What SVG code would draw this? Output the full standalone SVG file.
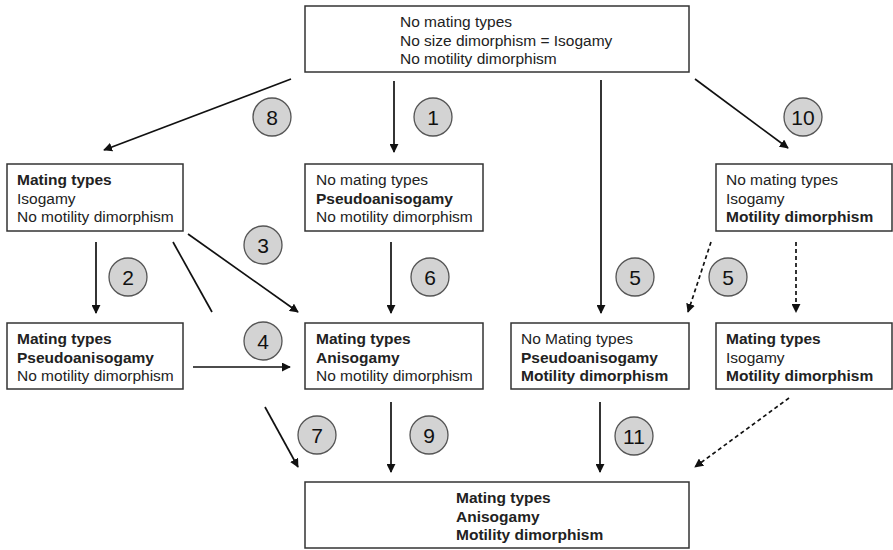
<svg xmlns="http://www.w3.org/2000/svg" width="893" height="550" viewBox="0 0 893 550">
<defs>
<marker id="ah" viewBox="0 0 10 10" refX="9" refY="5" markerWidth="9" markerHeight="9" markerUnits="userSpaceOnUse" orient="auto">
<path d="M0,0 L10,5 L0,10 Z" fill="#111"/>
</marker>
</defs>
<style>
.box{fill:#fff;stroke:#333;stroke-width:1.5}
text{font-family:"Liberation Sans",Arial,sans-serif;font-size:15.5px;fill:#222}
.b{font-weight:bold}
.c circle{fill:#d3d3d3;stroke:#555;stroke-width:1.3}
.c text{font-size:21px;text-anchor:middle;fill:#111}
.ln{stroke:#111;stroke-width:1.7;fill:none}
.ar{marker-end:url(#ah)}
.d{stroke-dasharray:4 3}
</style>
<rect width="893" height="550" fill="#fff"/>
<g id="connectors">
<line class="ln ar" x1="291" y1="79" x2="104" y2="150"/>
<line class="ln ar" x1="394" y1="81" x2="394" y2="152"/>
<line class="ln ar" x1="601" y1="80" x2="601" y2="313"/>
<line class="ln ar" x1="695" y1="79" x2="788" y2="148"/>
<line class="ln ar" x1="96" y1="242" x2="96" y2="313"/>
<line class="ln" x1="173" y1="242" x2="212" y2="312"/>
<line class="ln ar" x1="188" y1="234" x2="298" y2="312"/>
<line class="ln ar" x1="391" y1="242" x2="391" y2="313"/>
<line class="ln ar d" x1="711" y1="242" x2="688" y2="312"/>
<line class="ln ar d" x1="796" y1="242" x2="796" y2="312"/>
<line class="ln ar" x1="193" y1="367" x2="290" y2="367"/>
<line class="ln ar" x1="265" y1="407" x2="298" y2="467"/>
<line class="ln ar" x1="391" y1="402" x2="391" y2="472"/>
<line class="ln ar" x1="600" y1="402" x2="600" y2="472"/>
<line class="ln ar d" x1="789" y1="398" x2="695" y2="467"/>
</g>
<g id="n-top">
<rect class="box" x="305" y="6" width="384" height="66"/>
<text x="400" y="27">No mating types</text>
<text x="400" y="46">No size dimorphism = Isogamy</text>
<text x="400" y="64">No motility dimorphism</text>
</g>
<g id="n-mt-iso">
<rect class="box" x="7" y="164" width="176" height="67"/>
<text x="17" y="185" class="b">Mating types</text>
<text x="17" y="204">Isogamy</text>
<text x="17" y="222">No motility dimorphism</text>
</g>
<g id="n-nmt-pseudo">
<rect class="box" x="305" y="164" width="178" height="67"/>
<text x="316" y="185">No mating types</text>
<text x="316" y="204" class="b">Pseudoanisogamy</text>
<text x="316" y="222">No motility dimorphism</text>
</g>
<g id="n-nmt-motil">
<rect class="box" x="716" y="164" width="176" height="67"/>
<text x="726" y="185">No mating types</text>
<text x="726" y="204">Isogamy</text>
<text x="726" y="222" class="b">Motility dimorphism</text>
</g>
<g id="n-mt-pseudo">
<rect class="box" x="7" y="323" width="176" height="66"/>
<text x="17" y="344" class="b">Mating types</text>
<text x="17" y="363" class="b">Pseudoanisogamy</text>
<text x="17" y="381">No motility dimorphism</text>
</g>
<g id="n-mt-aniso">
<rect class="box" x="305" y="323" width="178" height="66"/>
<text x="316" y="344" class="b">Mating types</text>
<text x="316" y="363" class="b">Anisogamy</text>
<text x="316" y="381">No motility dimorphism</text>
</g>
<g id="n-nmt-pseudo-motil">
<rect class="box" x="511" y="323" width="178" height="66"/>
<text x="521" y="344">No Mating types</text>
<text x="521" y="363" class="b">Pseudoanisogamy</text>
<text x="521" y="381" class="b">Motility dimorphism</text>
</g>
<g id="n-mt-iso-motil">
<rect class="box" x="716" y="323" width="176" height="66"/>
<text x="726" y="344" class="b">Mating types</text>
<text x="726" y="363">Isogamy</text>
<text x="726" y="381" class="b">Motility dimorphism</text>
</g>
<g id="n-final">
<rect class="box" x="305" y="482" width="384" height="66"/>
<text x="456" y="503" class="b">Mating types</text>
<text x="456" y="522" class="b">Anisogamy</text>
<text x="456" y="540" class="b">Motility dimorphism</text>
</g>
<g id="labels" class="c">
<g id="l8"><circle cx="272" cy="117" r="19"/><text x="272" y="124.5">8</text></g>
<g id="l1"><circle cx="433" cy="117" r="19"/><text x="433" y="124.5">1</text></g>
<g id="l10"><circle cx="803" cy="117" r="19"/><text x="803" y="124.5">10</text></g>
<g id="l3"><circle cx="263" cy="245" r="19"/><text x="263" y="252.5">3</text></g>
<g id="l2"><circle cx="128" cy="277" r="19"/><text x="128" y="284.5">2</text></g>
<g id="l6"><circle cx="430" cy="277" r="19"/><text x="430" y="284.5">6</text></g>
<g id="l5a"><circle cx="635" cy="277" r="19"/><text x="635" y="284.5">5</text></g>
<g id="l5b"><circle cx="728" cy="277" r="19"/><text x="728" y="284.5">5</text></g>
<g id="l4"><circle cx="263" cy="341" r="19"/><text x="263" y="348.5">4</text></g>
<g id="l7"><circle cx="317" cy="435" r="19"/><text x="317" y="442.5">7</text></g>
<g id="l9"><circle cx="429" cy="435" r="19"/><text x="429" y="442.5">9</text></g>
<g id="l11"><circle cx="634" cy="436" r="19"/><text x="634" y="443.5">11</text></g>
</g>
</svg>
